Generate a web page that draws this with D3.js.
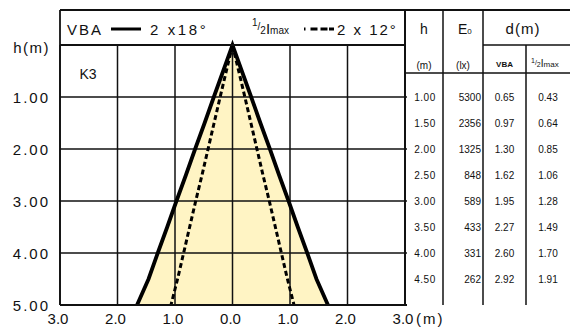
<!DOCTYPE html>
<html>
<head>
<meta charset="utf-8">
<script src="https://d3js.org/d3.v7.min.js"></script>
<style>
  body { margin: 0; background: #fff; }
  svg text { font-family: "Liberation Sans", Arial, sans-serif; fill: #111; }
</style>
</head>
<body>
<div id="chart"></div>
<script>
/* ---- data ---- */
const heights   = [1.00, 1.50, 2.00, 2.50, 3.00, 3.50, 4.00, 4.50];
const heightLbl = ['1.00', '1.50', '2.00', '2.50', '3.00', '3.50', '4.00', '4.50'];
const E0        = [5300, 2356, 1325, 848, 589, 433, 331, 262];
const dVBA      = [0.65, 0.97, 1.30, 1.62, 1.95, 2.27, 2.60, 2.92];
const dHalf     = [0.43, 0.64, 0.85, 1.06, 1.28, 1.49, 1.70, 1.91];

// beam outline end points (apex and bottom edge)
const apexH = 0, bottomH = 5;
const dVBABottom = 3.32, dHalfBottom = 2.14;

const xTicks = [-3, -2, -1, 0, 1, 2, 3];
const xTickLbl = ['3.0', '2.0', '1.0', '0.0', '1.0', '2.0', '3.0'];
const yTicks = [1, 2, 3, 4, 5];
const yTickLbl = ['1.00', '2.00', '3.00', '4.00', '5.00'];

/* ---- layout ---- */
const W = 570, H = 332;
const plot = { left: 60, right: 405, top: 10, head: 45, bottom: 305 };
const col = { h: 405, e: 443, vba: 483, half: 526, end: 570 };
const tableHead = 73;

const svg = d3.select('#chart').append('svg')
  .attr('width', W).attr('height', H);

const x = d3.scaleLinear().domain([-3, 3]).range([plot.left, plot.right]);
const y = d3.scaleLinear().domain([0, 5]).range([plot.head, plot.bottom]);

/* ---- beam shapes ---- */
const beamH = [apexH, ...heights, bottomH];
const vbaHalfW = [0, ...dVBA.map(d => d / 2), dVBABottom / 2];
const halfHalfW = [0, ...dHalf.map(d => d / 2), dHalfBottom / 2];

const conePts = (hw) => [
  ...beamH.map((h, i) => [-hw[i], h]).reverse(),
  ...beamH.map((h, i) => [hw[i], h]).slice(1)
];
const lineGen = d3.line().x(d => x(d[0])).y(d => y(d[1]));

svg.append('path')
  .attr('d', lineGen(conePts(vbaHalfW)) + 'Z')
  .attr('fill', '#fff4c4')
  .attr('stroke', 'none');

/* ---- grid ---- */
const grid = svg.append('g').attr('stroke', '#111').attr('stroke-width', 1.5);
grid.selectAll('.v').data(xTicks).join('line')
  .attr('x1', d => x(d)).attr('x2', d => x(d))
  .attr('y1', plot.head).attr('y2', plot.bottom);
grid.selectAll('.h').data(yTicks).join('line')
  .attr('x1', plot.left).attr('x2', plot.right + 2)
  .attr('y1', d => y(d)).attr('y2', d => y(d));

/* beam outlines */
const sideLine = (sign, hw) => lineGen(beamH.map((h, i) => [sign * hw[i], h]));
[-1, 1].forEach(s => {
  svg.append('path').attr('d', sideLine(s, halfHalfW))
    .attr('fill', 'none').attr('stroke', '#000')
    .attr('stroke-width', 3).attr('stroke-dasharray', '5,3');
});
svg.append('path').attr('d', lineGen(conePts(vbaHalfW)))
  .attr('fill', 'none').attr('stroke', '#000')
  .attr('stroke-width', 3.8).attr('stroke-linejoin', 'miter');

/* ---- frame ---- */
const frame = svg.append('g').attr('stroke', '#111').attr('stroke-width', 1.8);
frame.append('line').attr('x1', plot.left).attr('x2', W).attr('y1', plot.top).attr('y2', plot.top);
frame.append('line').attr('x1', plot.left).attr('x2', plot.left).attr('y1', plot.top).attr('y2', plot.bottom);
frame.append('line').attr('x1', plot.left).attr('x2', col.h).attr('y1', plot.head).attr('y2', plot.head);
frame.append('line').attr('x1', plot.left).attr('x2', col.h + 2).attr('y1', plot.bottom).attr('y2', plot.bottom);

/* ---- axis labels ---- */
svg.selectAll('.xl').data(xTicks).join('text')
  .attr('x', d => x(d) - 2).attr('y', 318)
  .attr('text-anchor', 'middle').attr('dominant-baseline', 'central')
  .attr('font-size', 15)
  .text((d, i) => xTickLbl[i]);
svg.append('text').attr('x', 416).attr('y', 318)
  .attr('dominant-baseline', 'central').attr('font-size', 15)
  .attr('letter-spacing', 2).text('(m)');

svg.selectAll('.yl').data(yTicks).join('text')
  .attr('x', 50).attr('y', d => y(d))
  .attr('text-anchor', 'end').attr('dominant-baseline', 'central')
  .attr('font-size', 15).attr('letter-spacing', 2)
  .text((d, i) => yTickLbl[i]);
svg.append('text').attr('x', 50).attr('y', y(0) + 2)
  .attr('text-anchor', 'end').attr('dominant-baseline', 'central')
  .attr('font-size', 15).attr('letter-spacing', 1.5).text('h(m)');

svg.append('text').attr('x', 88).attr('y', 74)
  .attr('text-anchor', 'middle').attr('dominant-baseline', 'central')
  .attr('font-size', 14).text('K3');

/* ---- legend in header ---- */
const legY = 29;
svg.append('text').attr('x', 67).attr('y', legY).attr('dominant-baseline', 'central')
  .attr('font-size', 15).attr('letter-spacing', 2).text('VBA');
svg.append('line').attr('x1', 111).attr('x2', 141).attr('y1', legY).attr('y2', legY)
  .attr('stroke', '#000').attr('stroke-width', 3);
svg.append('text').attr('x', 150).attr('y', legY).attr('dominant-baseline', 'central')
  .attr('font-size', 15).attr('letter-spacing', 2.6).text('2 x18°');

const imax = svg.append('text').attr('x', 252).attr('y', legY + 5).attr('font-size', 15);
imax.append('tspan').attr('font-size', 10).attr('dy', -8).text('1');
imax.append('tspan').attr('font-size', 10).attr('dy', 4).text('/');
imax.append('tspan').attr('font-size', 10).attr('dy', 4).text('2');
imax.append('tspan').attr('dy', 0).text('I');
imax.append('tspan').attr('font-size', 10).attr('dy', 0).text('max');
svg.append('line').attr('x1', 304).attr('x2', 334).attr('y1', legY).attr('y2', legY)
  .attr('stroke', '#000').attr('stroke-width', 3).attr('stroke-dasharray', '1.5,5,7,3,7');
svg.append('text').attr('x', 337).attr('y', legY).attr('dominant-baseline', 'central')
  .attr('font-size', 15).attr('letter-spacing', 2).text('2 x 12°');

/* ---- table ---- */
const tbl = svg.append('g').attr('stroke', '#111').attr('stroke-width', 1.5);
tbl.append('line').attr('x1', col.h).attr('x2', col.h).attr('y1', plot.top).attr('y2', plot.bottom)
  .attr('stroke-width', 2);
[col.e, col.vba].forEach(cx => tbl.append('line')
  .attr('x1', cx).attr('x2', cx).attr('y1', plot.top).attr('y2', plot.bottom));
tbl.append('line').attr('x1', col.half).attr('x2', col.half).attr('y1', plot.head).attr('y2', plot.bottom);
tbl.append('line').attr('x1', col.vba).attr('x2', col.end).attr('y1', plot.head).attr('y2', plot.head);
tbl.append('line').attr('x1', col.h).attr('x2', col.end).attr('y1', tableHead).attr('y2', tableHead);

const hdr = (tx, ty, s, size, anchor = 'middle') => svg.append('text')
  .attr('x', tx).attr('y', ty).attr('text-anchor', anchor)
  .attr('dominant-baseline', 'central').attr('font-size', size).text(s);

hdr((col.h + col.e) / 2, 29, 'h', 14);
const e0 = svg.append('text').attr('x', 458).attr('y', 34).attr('font-size', 14);
e0.append('tspan').text('E');
e0.append('tspan').attr('font-size', 8).text('0');
hdr(523, 28, 'd(m)', 15).attr('letter-spacing', 1);
hdr((col.h + col.e) / 2, 65, '(m)', 10);
hdr((col.e + col.vba) / 2, 65, '(lx)', 10);
hdr((col.vba + col.half) / 2, 64, 'VBA', 8).attr('font-weight', 'bold');
const ih = svg.append('text').attr('x', 531).attr('y', 67).attr('font-size', 10);
ih.append('tspan').attr('font-size', 7).attr('dy', -4).text('1');
ih.append('tspan').attr('font-size', 7).attr('dy', 2).text('/');
ih.append('tspan').attr('font-size', 7).attr('dy', 2).text('2');
ih.append('tspan').attr('dy', 0).text('I');
ih.append('tspan').attr('font-size', 8).text('max');

const rows = svg.append('g').attr('font-size', 10);
rows.selectAll('.rh').data(heights).join('text')
  .attr('x', (col.h + col.e) / 2 + 1).attr('y', d => y(d))
  .attr('text-anchor', 'middle').attr('dominant-baseline', 'central')
  .attr('letter-spacing', 0.5)
  .text((d, i) => heightLbl[i]);
rows.selectAll('.re').data(E0).join('text')
  .attr('x', col.vba - 2).attr('y', (d, i) => y(heights[i]))
  .attr('text-anchor', 'end').attr('dominant-baseline', 'central')
  .text(d => d);
rows.selectAll('.rv').data(dVBA).join('text')
  .attr('x', (col.vba + col.half) / 2).attr('y', (d, i) => y(heights[i]))
  .attr('text-anchor', 'middle').attr('dominant-baseline', 'central')
  .text(d => d.toFixed(2));
rows.selectAll('.rq').data(dHalf).join('text')
  .attr('x', (col.half + col.end) / 2).attr('y', (d, i) => y(heights[i]))
  .attr('text-anchor', 'middle').attr('dominant-baseline', 'central')
  .text(d => d.toFixed(2));
</script>
</body>
</html>
